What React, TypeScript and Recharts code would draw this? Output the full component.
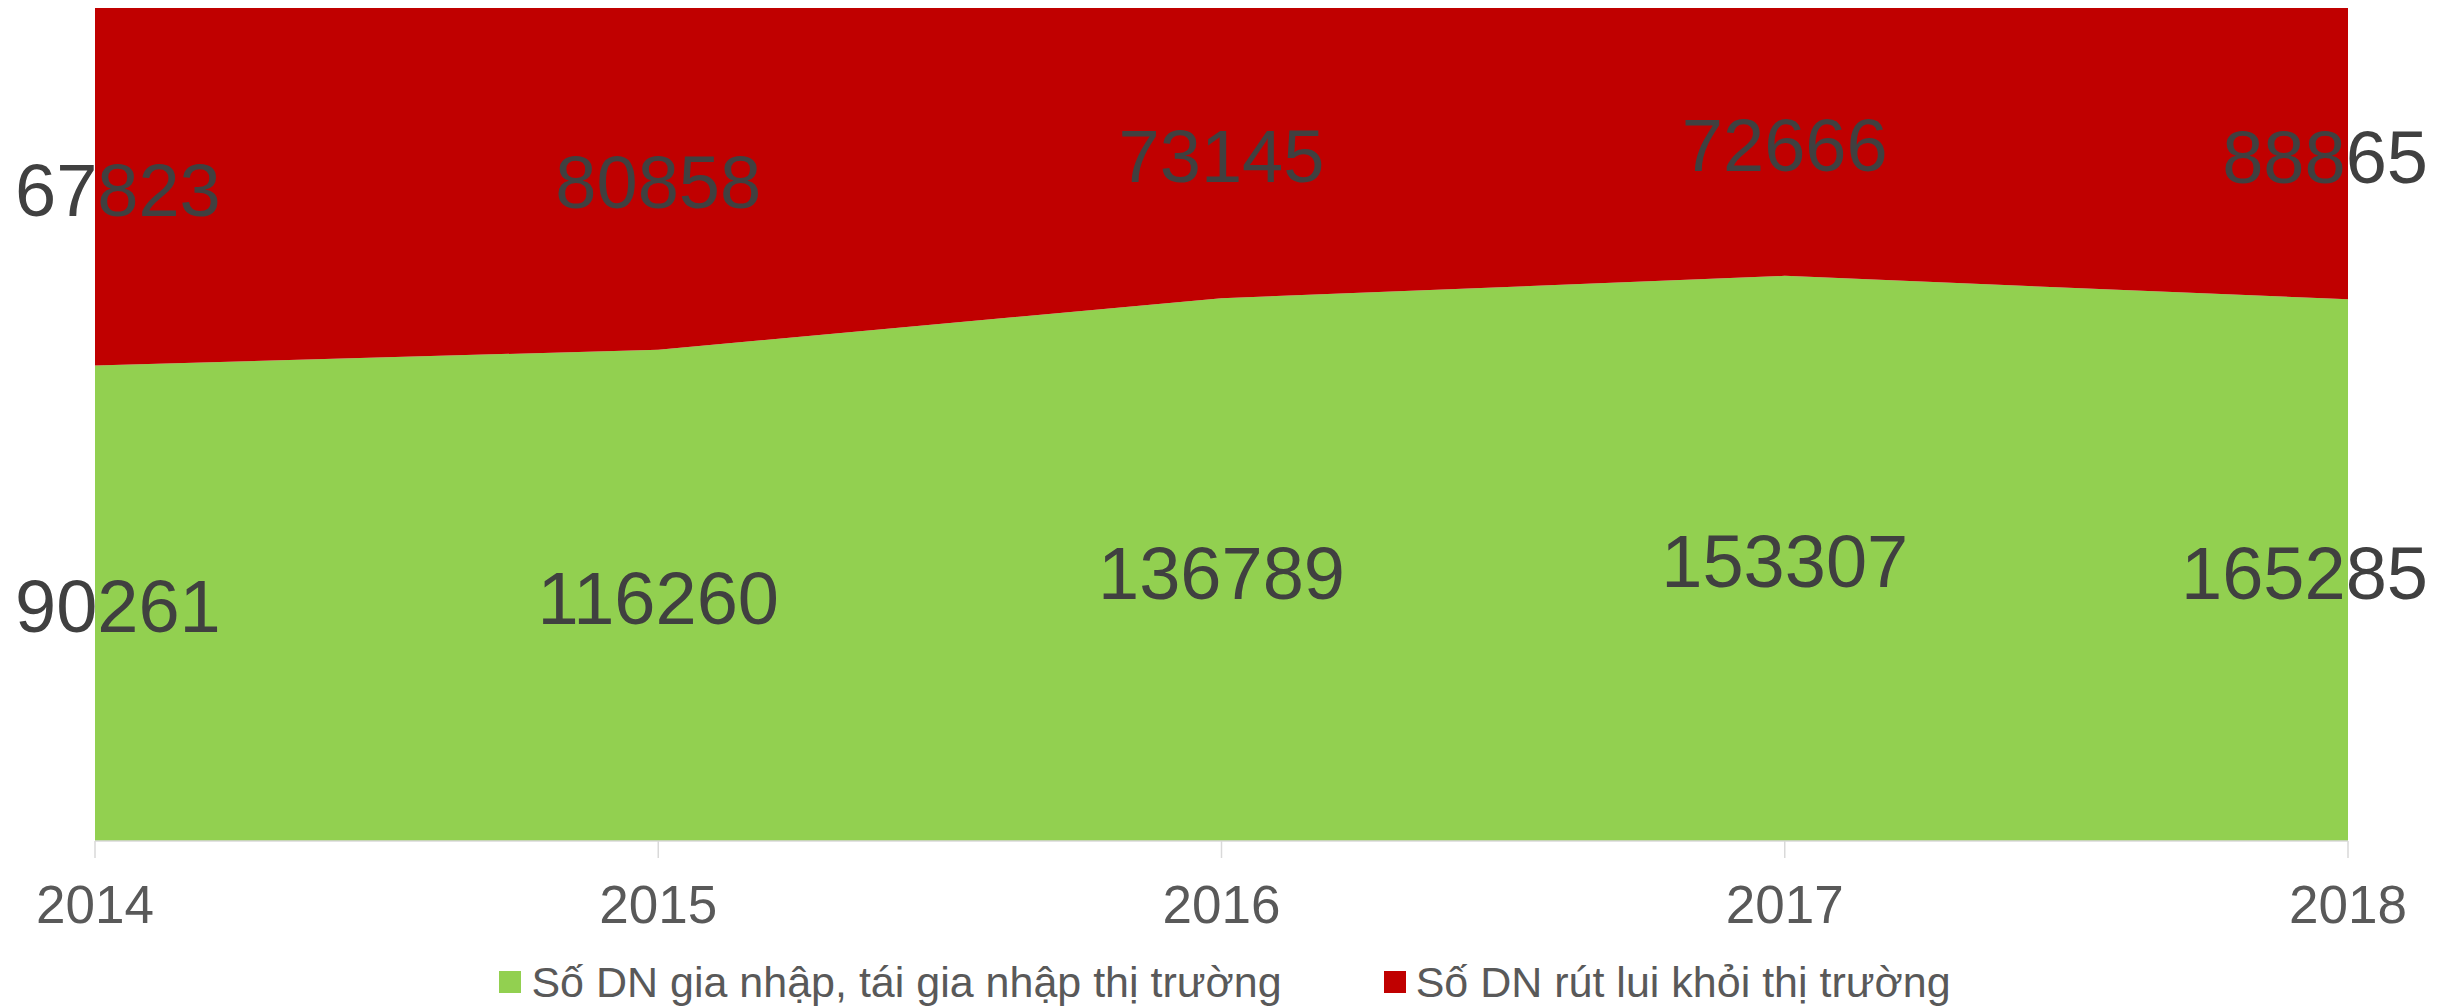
import React from "react";
import { ComposedChart, Area, Line, XAxis, YAxis, Legend } from "recharts";

const years = ["2014", "2015", "2016", "2017", "2018"];
const entered = [90261, 116260, 136789, 153307, 165285];
const exited = [67823, 80858, 73145, 72666, 88865];

const seriesNames = {
  entered: "Số DN gia nhập, tái gia nhập thị trường",
  exited: "Số DN rút lui khỏi thị trường",
};

const GREEN = "#92D050";
const RED = "#C00000";
const FONT = "'Liberation Sans', Arial, sans-serif";

// label anchors sit in the middle of each stacked band
const chartData = years.map((year, i) => {
  const total = entered[i] + exited[i];
  return {
    year,
    entered: entered[i],
    exited: exited[i],
    enteredMid: entered[i] / total / 2,
    exitedMid: (entered[i] + exited[i] / 2) / total,
  };
});

const LABEL_SIZE = 74;

function makeLabel(values: number[]) {
  return (props: any) => {
    const { x, y, index } = props;
    const text = String(values[index]);
    let anchor: "middle" | "start" | "end" = "middle";
    let tx = x;
    // keep the first / last labels inside the chart
    if (index === 0) {
      anchor = "start";
      tx = x - 80;
    } else if (index === values.length - 1) {
      anchor = "end";
      tx = x + 80;
    }
    return (
      <text
        key={`lbl-${index}`}
        x={tx}
        y={y}
        dy={29}
        textAnchor={anchor}
        fontSize={LABEL_SIZE}
        fontFamily={FONT}
        fill="#404040"
      >
        {text}
      </text>
    );
  };
}

function LegendBox() {
  const items = [
    { name: seriesNames.entered, color: GREEN },
    { name: seriesNames.exited, color: RED },
  ];
  return (
    <div
      style={{
        height: 66,
        paddingTop: 16,
        boxSizing: "border-box",
        display: "flex",
        justifyContent: "center",
        alignItems: "center",
        fontFamily: FONT,
        fontSize: 43,
        color: "#595959",
        whiteSpace: "nowrap",
      }}
    >
      {items.map((it, i) => (
        <div
          key={it.name}
          style={{ display: "flex", alignItems: "center", marginLeft: i ? 102 : 0 }}
        >
          <span
            style={{ width: 22, height: 22, background: it.color, marginRight: 10, display: "inline-block" }}
          />
          <span>{it.name}</span>
        </div>
      ))}
    </div>
  );
}

export default function App() {
  return (
    <div style={{ position: "absolute", left: 0, top: 0, width: 2450, height: 1007, background: "#fff" }}>
      <ComposedChart
        width={2450}
        height={1007}
        data={chartData}
        stackOffset="expand"
        margin={{ top: 8, right: 102, left: 95, bottom: 0 }}
      >
        <XAxis
          dataKey="year"
          scale="point"
          padding={{ left: 0, right: 0 }}
          height={100}
          tickSize={17}
          tickMargin={27}
          axisLine={{ stroke: "#d9d9d9", strokeWidth: 1.5 }}
          tickLine={{ stroke: "#d9d9d9", strokeWidth: 1.5 }}
          tick={{ fontSize: 53, fill: "#595959", fontFamily: FONT }}
          interval={0}
        />
        <YAxis hide type="number" domain={[0, 1]} />
        <Area
          type="linear"
          dataKey="entered"
          stackId="1"
          fill={GREEN}
          fillOpacity={1}
          stroke="none"
          isAnimationActive={false}
        />
        <Area
          type="linear"
          dataKey="exited"
          stackId="1"
          fill={RED}
          fillOpacity={1}
          stroke="none"
          isAnimationActive={false}
        />
        <Line
          dataKey="enteredMid"
          stroke="none"
          dot={false}
          activeDot={false}
          legendType="none"
          label={makeLabel(entered)}
          isAnimationActive={false}
        />
        <Line
          dataKey="exitedMid"
          stroke="none"
          dot={false}
          activeDot={false}
          legendType="none"
          label={makeLabel(exited)}
          isAnimationActive={false}
        />
        <Legend
          verticalAlign="bottom"
          height={66}
          wrapperStyle={{ left: 0, width: 2450 }}
          content={() => <LegendBox />}
        />
      </ComposedChart>
    </div>
  );
}
